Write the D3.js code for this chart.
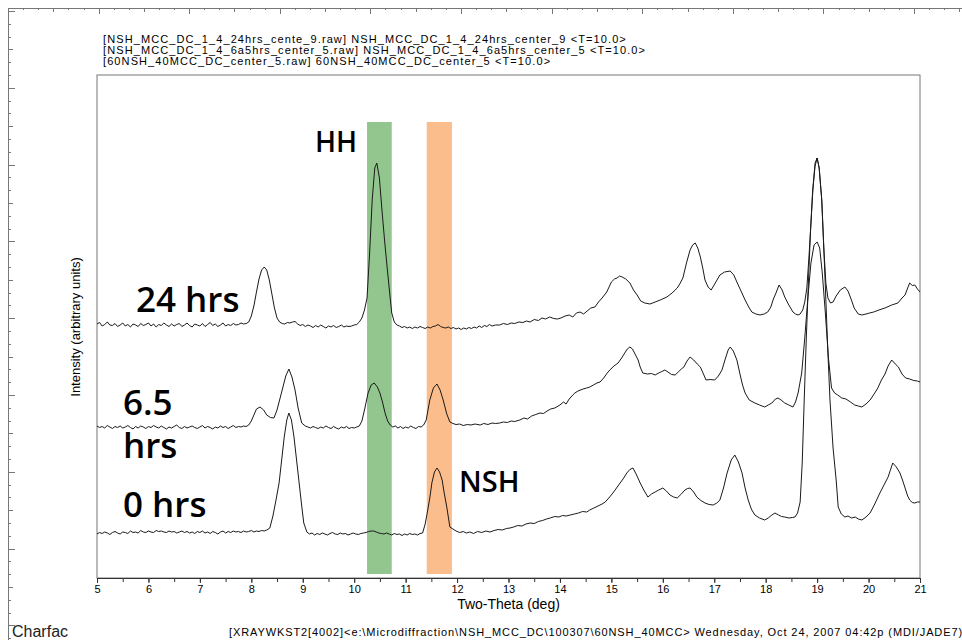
<!DOCTYPE html>
<html>
<head>
<meta charset="utf-8">
<script src="https://cdn.jsdelivr.net/npm/d3@7/dist/d3.min.js"></script>
<style>
    body { margin: 0; background: #fff; }
    #chart { width: 962px; height: 640px; position: relative; }
    svg text { font-family: "Liberation Sans", Arial, sans-serif; fill: #000; }
    .axis--x text { font-size: 11px; }
    .axis--x path, .axis--x line { stroke: #333; }
    .legend-line { font-size: 11px; letter-spacing: 1.1px; }
    .footer { font-size: 11px; letter-spacing: 0.9px; }
    .charfac { font-size: 16px; fill: #222; }
    .axis-title { font-size: 14px; }
    .y-title { font-size: 13px; }
    .ann { font-family: "Open Sans", "Noto Sans", sans-serif !important; font-weight: 600; }
    .trace { fill: none; stroke: #1a1a1a; stroke-width: 1; stroke-linejoin: round; }
    .ruler line, .ruler path { stroke: #777; }
</style>
</head>
<body>
<div id="chart"></div>
<script>
// ---- data (two-theta in deg, intensity in arbitrary counts) ----
const xTicks = [5, 6, 7, 8, 9, 10, 11, 12, 13, 14, 15, 16, 17, 18, 19, 20, 21];

const legendLines = [
    '[NSH_MCC_DC_1_4_24hrs_cente_9.raw] NSH_MCC_DC_1_4_24hrs_center_9 <T=10.0>',
    '[NSH_MCC_DC_1_4_6a5hrs_center_5.raw] NSH_MCC_DC_1_4_6a5hrs_center_5 <T=10.0>',
    '[60NSH_40MCC_DC_center_5.raw] 60NSH_40MCC_DC_center_5 <T=10.0>'
];

const seriesNames = ['24 hrs', '6.5 hrs', '0 hrs'];

// highlighted two-theta windows: HH and NSH
const bandNames = ['HH', 'NSH'];
const bandRanges = [[10.25, 10.73], [11.41, 11.90]];
const bandIntensity = [40, 4560];

const trace24 = [
[5.00,2540],[5.05,2555],[5.10,2520],[5.15,2535],[5.20,2560],[5.25,2530],[5.30,2525],[5.35,2545],[5.40,2515],[5.45,2530],[5.50,2550],[5.55,2520],[5.60,2535],[5.65,2510],[5.70,2540],[5.75,2530],[5.80,2515],[5.85,2545],[5.90,2525],[5.95,2535],
[6.00,2550],[6.05,2520],[6.10,2540],[6.15,2510],[6.20,2535],[6.25,2525],[6.30,2550],[6.35,2530],[6.40,2515],[6.45,2540],[6.50,2520],[6.55,2535],[6.60,2545],[6.65,2515],[6.70,2530],[6.75,2550],[6.80,2525],[6.85,2510],[6.90,2540],[6.95,2530],
[7.00,2520],[7.05,2545],[7.10,2515],[7.15,2535],[7.20,2555],[7.25,2525],[7.30,2540],[7.35,2515],[7.40,2530],[7.45,2550],[7.50,2520],[7.55,2535],[7.60,2525],[7.65,2545],[7.70,2530],[7.75,2535],[7.80,2550],[7.85,2540],[7.90,2545],[7.95,2560],
[8.00,2620],[8.05,2720],[8.10,2860],[8.15,2990],[8.20,3080],[8.25,3110],[8.30,3080],[8.35,2980],[8.40,2840],[8.45,2700],[8.50,2600],[8.55,2560],[8.60,2545],[8.65,2540],[8.70,2555],[8.75,2550],[8.80,2560],[8.85,2565],[8.90,2540],[8.95,2525],
[9.00,2535],[9.05,2515],[9.10,2530],[9.15,2520],[9.20,2505],[9.25,2525],[9.30,2510],[9.35,2530],[9.40,2515],[9.45,2500],[9.50,2520],[9.55,2510],[9.60,2525],[9.65,2505],[9.70,2515],[9.75,2530],[9.80,2510],[9.85,2520],[9.90,2515],[9.95,2520],
[10.00,2530],[10.05,2535],[10.10,2560],[10.15,2600],[10.20,2680],[10.25,2800],[10.30,3250],[10.35,3780],[10.40,4100],[10.44,4150],[10.49,4000],[10.54,3680],[10.59,3380],[10.64,3110],[10.69,2850],[10.73,2650],[10.78,2560],[10.83,2530],
[10.88,2520],[10.93,2505],[10.98,2515],[11.03,2500],[11.08,2510],[11.13,2495],[11.18,2510],[11.23,2500],[11.28,2515],[11.33,2505],[11.38,2495],[11.43,2510],[11.48,2500],[11.53,2515],[11.58,2520],[11.63,2535],[11.68,2515],[11.73,2505],[11.78,2500],[11.83,2510],[11.88,2495],[11.93,2505],[11.98,2490],
[12.03,2500],[12.08,2485],[12.13,2500],[12.18,2490],[12.23,2505],[12.28,2495],[12.33,2510],[12.38,2500],[12.43,2520],[12.48,2505],[12.53,2525],[12.58,2515],[12.63,2535],[12.68,2520],[12.75,2530],[12.83,2530],[12.90,2545],[12.98,2535],
[13.05,2550],[13.12,2545],[13.20,2560],[13.28,2555],[13.35,2570],[13.42,2560],[13.50,2585],[13.58,2575],[13.65,2600],[13.72,2590],[13.80,2610],[13.88,2595],[13.95,2590],
[14.02,2600],[14.10,2620],[14.18,2630],[14.25,2610],[14.32,2650],[14.39,2660],[14.46,2640],[14.53,2670],[14.60,2700],[14.68,2710],[14.75,2760],[14.82,2800],[14.91,2860],
[15.00,2960],[15.06,2990],[15.11,3000],[15.16,3020],[15.21,3010],[15.28,2990],[15.36,2950],[15.43,2880],[15.50,2830],[15.57,2770],[15.65,2750],[15.75,2740],[15.85,2760],[15.95,2780],
[16.08,2810],[16.18,2850],[16.28,2900],[16.34,2950],[16.39,3000],[16.46,3150],[16.53,3280],[16.58,3330],[16.63,3350],[16.68,3300],[16.73,3210],[16.78,3090],[16.82,2980],[16.88,2910],[16.94,2880],
[17.02,2950],[17.11,3030],[17.20,3060],[17.31,3070],[17.38,3030],[17.44,2960],[17.52,2870],[17.60,2780],[17.67,2710],[17.73,2660],[17.81,2640],[17.89,2630],[17.97,2640],
[18.04,2660],[18.10,2710],[18.15,2790],[18.20,2850],[18.26,2930],[18.32,2880],[18.37,2810],[18.45,2730],[18.53,2660],[18.58,2640],[18.63,2630],[18.67,2640],[18.72,2680],[18.76,2760],[18.80,2900],[18.84,3200],[18.88,3550],[18.92,3900],[18.96,4120],
[19.00,4200],[19.04,4100],[19.09,3780],[19.13,3300],[19.17,2950],[19.21,2800],[19.26,2750],[19.31,2760],[19.37,2820],[19.45,2880],[19.54,2910],[19.60,2870],[19.66,2790],[19.72,2700],[19.80,2640],[19.87,2630],[19.95,2640],
[20.02,2650],[20.10,2660],[20.20,2680],[20.32,2700],[20.45,2730],[20.57,2750],[20.65,2800],[20.71,2830],[20.76,2900],[20.80,2950],[20.85,2925],[20.90,2930],[20.95,2890],[21.00,2860]
];

const trace65 = [
[5.00,1520],[5.05,1505],[5.10,1515],[5.15,1500],[5.20,1525],[5.25,1510],[5.30,1495],[5.35,1515],[5.40,1505],[5.45,1520],[5.50,1500],[5.55,1510],[5.60,1525],[5.65,1505],[5.70,1490],[5.75,1515],[5.80,1500],[5.85,1520],[5.90,1510],[5.95,1495],
[6.00,1515],[6.05,1505],[6.10,1525],[6.15,1510],[6.20,1500],[6.25,1520],[6.30,1505],[6.35,1490],[6.40,1510],[6.45,1500],[6.50,1515],[6.55,1530],[6.60,1505],[6.65,1495],[6.70,1515],[6.75,1500],[6.80,1510],[6.85,1520],[6.90,1505],[6.95,1495],
[7.00,1510],[7.05,1525],[7.10,1500],[7.15,1515],[7.20,1505],[7.25,1490],[7.30,1510],[7.35,1500],[7.40,1520],[7.45,1505],[7.50,1515],[7.55,1495],[7.60,1510],[7.65,1525],[7.70,1505],[7.75,1515],[7.80,1510],[7.85,1520],[7.90,1515],[7.95,1530],
[8.00,1570],[8.05,1630],[8.10,1690],[8.17,1710],[8.24,1680],[8.30,1630],[8.37,1605],[8.44,1600],[8.50,1680],[8.55,1780],[8.60,1880],[8.67,2020],[8.73,2090],[8.79,2010],[8.85,1880],[8.91,1700],[8.98,1550],
[9.05,1520],[9.10,1510],[9.15,1500],[9.20,1515],[9.25,1505],[9.30,1495],[9.35,1510],[9.40,1500],[9.45,1520],[9.50,1505],[9.55,1495],[9.60,1515],[9.65,1500],[9.70,1490],[9.75,1510],[9.80,1500],[9.85,1515],[9.90,1495],[9.95,1505],
[10.00,1500],[10.05,1510],[10.10,1520],[10.15,1570],[10.20,1680],[10.27,1850],[10.33,1930],[10.39,1950],[10.45,1910],[10.50,1850],[10.55,1760],[10.60,1650],[10.65,1570],[10.70,1530],[10.75,1510],[10.80,1520],[10.85,1500],[10.90,1515],[10.95,1495],
[11.00,1510],[11.05,1500],[11.10,1520],[11.15,1505],[11.20,1495],[11.25,1515],[11.30,1510],[11.35,1530],[11.40,1580],[11.47,1780],[11.54,1900],[11.61,1940],[11.67,1880],[11.73,1780],[11.80,1640],[11.86,1560],[11.92,1545],[11.98,1535],
[12.05,1540],[12.12,1525],[12.20,1535],[12.27,1530],[12.35,1540],[12.45,1530],[12.52,1545],[12.60,1535],[12.68,1550],[12.75,1545],[12.83,1550],[12.90,1560],[12.98,1555],
[13.05,1570],[13.12,1565],[13.22,1580],[13.30,1600],[13.37,1590],[13.45,1620],[13.53,1635],[13.61,1650],[13.68,1645],[13.75,1670],[13.82,1690],[13.90,1700],
[14.00,1730],[14.07,1760],[14.12,1740],[14.18,1790],[14.25,1830],[14.29,1850],[14.35,1870],[14.45,1890],[14.52,1900],[14.58,1910],[14.65,1930],[14.72,1950],[14.78,1960],[14.85,2000],[14.92,2050],[14.97,2080],
[15.05,2120],[15.13,2150],[15.20,2200],[15.26,2250],[15.31,2290],[15.36,2310],[15.41,2290],[15.46,2240],[15.52,2180],[15.56,2110],[15.61,2050],[15.70,2040],[15.78,2045],[15.85,2030],[15.92,2050],[15.98,2065],
[16.04,2080],[16.10,2060],[16.17,2035],[16.24,2030],[16.30,2060],[16.36,2090],[16.41,2110],[16.47,2170],[16.53,2210],[16.60,2180],[16.67,2140],[16.73,2110],[16.79,2040],[16.84,1980],[16.92,1985],
[17.01,1980],[17.08,2020],[17.15,2080],[17.22,2200],[17.27,2280],[17.31,2310],[17.37,2270],[17.44,2180],[17.50,2040],[17.55,1930],[17.60,1850],[17.68,1780],[17.79,1750],[17.88,1730],[17.98,1710],
[18.05,1730],[18.12,1750],[18.19,1790],[18.24,1800],[18.30,1780],[18.37,1750],[18.45,1730],[18.53,1710],[18.58,1760],[18.63,1850],[18.70,2050],[18.76,2400],[18.82,2800],[18.88,3150],[18.94,3330],
[19.00,3360],[19.05,3300],[19.10,3050],[19.16,2650],[19.22,2200],[19.28,1900],[19.34,1850],[19.40,1830],[19.48,1800],[19.56,1790],[19.65,1760],[19.73,1730],[19.80,1720],[19.87,1710],[19.95,1740],
[20.03,1780],[20.12,1850],[20.18,1900],[20.25,1980],[20.32,2040],[20.38,2120],[20.45,2180],[20.52,2140],[20.58,2110],[20.65,2040],[20.72,2000],[20.80,1990],[20.88,1975],[20.95,1970],[21.00,1960]
];

const trace0 = [
[5.00,440],[5.05,455],[5.10,445],[5.15,460],[5.20,450],[5.25,435],[5.30,455],[5.35,465],[5.40,450],[5.45,440],[5.50,460],[5.55,455],[5.60,445],[5.65,470],[5.70,455],[5.75,460],[5.80,450],[5.85,475],[5.90,460],[5.95,455],
[6.00,470],[6.05,460],[6.10,455],[6.15,475],[6.20,465],[6.25,470],[6.30,460],[6.35,455],[6.40,470],[6.45,460],[6.50,465],[6.55,450],[6.60,460],[6.65,470],[6.70,455],[6.75,465],[6.80,450],[6.85,460],[6.90,445],[6.95,465],
[7.00,455],[7.05,470],[7.10,450],[7.15,460],[7.20,445],[7.25,465],[7.30,455],[7.35,440],[7.40,460],[7.45,470],[7.50,450],[7.55,465],[7.60,455],[7.65,470],[7.70,460],[7.75,465],[7.80,455],[7.85,470],[7.90,460],[7.95,465],
[8.00,475],[8.05,460],[8.10,470],[8.15,465],[8.20,475],[8.25,470],[8.30,480],[8.36,500],[8.42,620],[8.48,780],[8.54,950],[8.59,1180],[8.64,1410],[8.69,1580],[8.73,1650],[8.78,1580],[8.83,1410],[8.88,1180],[8.93,950],[8.98,720],
[9.02,550],[9.08,460],[9.13,440],[9.18,450],[9.23,430],[9.28,445],[9.33,435],[9.38,450],[9.43,440],[9.48,430],[9.53,445],[9.58,455],[9.63,440],[9.68,435],[9.73,450],[9.78,440],[9.83,445],[9.88,430],[9.93,440],[9.98,450],
[10.03,440],[10.08,435],[10.13,445],[10.18,450],[10.23,455],[10.28,465],[10.33,470],[10.38,470],[10.43,460],[10.48,450],[10.53,445],[10.58,440],[10.63,450],[10.68,440],[10.73,430],[10.78,445],[10.83,435],[10.88,440],[10.93,425],[10.98,440],
[11.03,430],[11.08,445],[11.13,435],[11.18,440],[11.23,430],[11.28,445],[11.33,450],[11.38,540],[11.42,650],[11.47,800],[11.51,950],[11.56,1060],[11.61,1100],[11.66,1060],[11.71,980],[11.75,850],[11.80,710],[11.86,510],[11.92,490],[11.98,470],
[12.05,455],[12.12,465],[12.18,450],[12.25,460],[12.32,445],[12.40,465],[12.48,455],[12.56,470],[12.64,460],[12.72,475],[12.80,485],[12.88,480],[12.96,495],
[13.03,500],[13.10,510],[13.18,525],[13.26,520],[13.34,540],[13.42,550],[13.50,545],[13.58,565],[13.66,575],[13.74,590],[13.81,600],[13.90,615],[13.98,610],
[14.05,625],[14.12,620],[14.20,630],[14.28,640],[14.36,650],[14.44,665],[14.52,660],[14.58,680],[14.66,700],[14.74,720],[14.82,740],[14.88,760],[14.95,800],
[15.03,850],[15.10,900],[15.17,950],[15.24,1000],[15.30,1050],[15.36,1085],[15.42,1100],[15.49,1030],[15.56,950],[15.63,880],[15.71,810],[15.78,840],[15.85,860],[15.92,880],
[16.00,900],[16.07,870],[16.14,830],[16.21,810],[16.28,800],[16.36,840],[16.43,880],[16.48,895],[16.53,900],[16.60,860],[16.66,810],[16.74,775],[16.82,750],[16.90,735],[16.98,730],
[17.05,750],[17.11,780],[17.18,900],[17.25,1050],[17.33,1180],[17.40,1230],[17.47,1160],[17.54,1050],[17.60,900],[17.66,780],[17.72,690],[17.79,630],[17.88,600],[17.98,580],
[18.05,600],[18.12,630],[18.18,650],[18.25,630],[18.31,615],[18.37,610],[18.45,600],[18.52,605],[18.57,610],[18.62,650],[18.67,760],[18.71,1150],[18.75,1800],[18.79,2400],[18.83,2950],[18.87,3450],[18.91,3850],[18.96,4150],
[19.00,4200],[19.04,4100],[19.09,3780],[19.13,3300],[19.17,2780],[19.21,2250],[19.25,1780],[19.31,1300],[19.37,980],[19.41,710],[19.47,640],[19.54,610],[19.60,620],[19.67,600],[19.74,610],[19.80,590],[19.87,580],[19.95,610],
[20.03,650],[20.12,740],[20.22,850],[20.30,930],[20.38,1010],[20.47,1150],[20.54,1110],[20.61,1050],[20.66,980],[20.71,900],[20.76,820],[20.80,780],[20.85,755],[20.90,750],[20.95,760],[21.00,760]
];

const footerText = '[XRAYWKST2[4002]<e:\\Microdiffraction\\NSH_MCC_DC\\100307\\60NSH_40MCC> Wednesday, Oct 24, 2007 04:42p (MDI/JADE7)';


class StackedScanChart {

    constructor(selection, config = {}) {
        let self = this;
        this.selection = selection;

        this.cfg = {
            'margin': {'top': 75, 'right': 42, 'bottom': 62, 'left': 97},
            'xdomain': [5, 21],
            'ydomain': [0, 5030],
            'bandcolors': ['#93c68f', '#fcbd8c'],
            'seriesLabels': [
                {'text': '24 hrs', 'x': 136, 'y': 312, 'size': 35},
                {'text': '6.5',    'x': 123, 'y': 415, 'size': 35},
                {'text': 'hrs',    'x': 123, 'y': 458, 'size': 35},
                {'text': '0 hrs',  'x': 123, 'y': 517, 'size': 35}
            ],
            'bandLabels': [
                {'x': 315, 'y': 152, 'size': 28},
                {'x': 459, 'y': 492, 'size': 29}
            ]
        };
        Object.keys(config).forEach(function(key) { self.cfg[key] = config[key]; });

        this.cfg.outerW = 962;
        this.cfg.outerH = 640;
        this.cfg.width = this.cfg.outerW - this.cfg.margin.left - this.cfg.margin.right;
        this.cfg.height = this.cfg.outerH - this.cfg.margin.top - this.cfg.margin.bottom;

        this.xScale = d3.scaleLinear().domain(this.cfg.xdomain).range([0, this.cfg.width]);
        this.yScale = d3.scaleLinear().domain(this.cfg.ydomain).range([this.cfg.height, 0]);

        this.line = d3.line()
            .x(function(d){ return self.xScale(d[0]); })
            .y(function(d){ return self.yScale(d[1]); });

        this.initGraph();
    }

    initGraph() {
        let self = this;
        const cfg = this.cfg;

        this.svg = this.selection.append('svg')
            .attr('width', cfg.outerW)
            .attr('height', cfg.outerH);

        // page rulers (top and left)
        this.drawRulers();

        // legend / file names
        this.svg.append('g').attr('class', 'legend')
            .selectAll('text')
            .data(legendLines).enter()
            .append('text')
            .attr('class', 'legend-line')
            .attr('x', 103)
            .attr('y', function(d, i){ return 43 + i * 11; })
            .text(function(d){ return d; });

        this.g = this.svg.append('g')
            .attr('transform', 'translate(' + cfg.margin.left + ',' + cfg.margin.top + ')');

        // highlight bands
        this.g.selectAll('.band')
            .data(bandRanges).enter()
            .append('rect')
            .attr('class', 'band')
            .attr('x', function(d){ return self.xScale(d[0]); })
            .attr('width', function(d){ return self.xScale(d[1]) - self.xScale(d[0]); })
            .attr('y', self.yScale(bandIntensity[1]))
            .attr('height', self.yScale(bandIntensity[0]) - self.yScale(bandIntensity[1]))
            .attr('fill', function(d, i){ return cfg.bandcolors[i]; });

        // frame
        this.g.append('rect')
            .attr('width', cfg.width)
            .attr('height', cfg.height)
            .attr('fill', 'none')
            .attr('stroke', '#777')
            .attr('stroke-width', 1);

        // traces
        this.g.selectAll('.trace')
            .data([trace24, trace65, trace0]).enter()
            .append('path')
            .attr('class', 'trace')
            .attr('d', function(d){ return self.line(d); });

        // x axis with half-degree minor ticks
        const minor = d3.range(cfg.xdomain[0] * 2, cfg.xdomain[1] * 2 + 1).map(function(v){ return v / 2; });
        this.g.append('g')
            .attr('class', 'axis axis--x')
            .attr('transform', 'translate(0,' + cfg.height + ')')
            .call(d3.axisBottom(self.xScale).tickValues(minor).tickSize(4).tickFormat(''));
        this.g.append('g')
            .attr('class', 'axis axis--x')
            .attr('transform', 'translate(0,' + cfg.height + ')')
            .call(d3.axisBottom(self.xScale).tickValues(xTicks).tickSize(5).tickPadding(2).tickFormat(d3.format('d')));

        this.g.append('text')
            .attr('class', 'axis-title')
            .attr('text-anchor', 'middle')
            .attr('x', cfg.width / 2)
            .attr('y', cfg.height + 31)
            .text('Two-Theta (deg)');

        this.svg.append('text')
            .attr('class', 'y-title')
            .attr('text-anchor', 'middle')
            .attr('transform', 'translate(80,327) rotate(-90)')
            .text('Intensity (arbitrary units)');

        // annotations
        this.svg.selectAll('.series-label')
            .data(cfg.seriesLabels).enter()
            .append('text')
            .attr('class', 'ann series-label')
            .attr('x', function(d){ return d.x; })
            .attr('y', function(d){ return d.y; })
            .style('font-size', function(d){ return d.size + 'px'; })
            .text(function(d){ return d.text; });

        this.svg.selectAll('.band-label')
            .data(cfg.bandLabels).enter()
            .append('text')
            .attr('class', 'ann band-label')
            .attr('x', function(d){ return d.x; })
            .attr('y', function(d){ return d.y; })
            .style('font-size', function(d){ return d.size + 'px'; })
            .text(function(d, i){ return bandNames[i]; });

        // footer
        this.svg.append('text')
            .attr('class', 'charfac')
            .attr('x', 12)
            .attr('y', 637)
            .text('Charfac');

        this.svg.append('text')
            .attr('class', 'footer')
            .attr('x', 229)
            .attr('y', 636)
            .text(footerText);
    }

    drawRulers() {
        const r = this.svg.append('g').attr('class', 'ruler');
        const xr = d3.scaleLinear().domain([0, 63]).range([8, 8 + 63 * 15.1]);
        const yr = d3.scaleLinear().domain([0, 49]).range([11, 11 + 49 * 12.8]);

        r.append('line').attr('x1', 8).attr('x2', 962).attr('y1', 8.5).attr('y2', 8.5);
        r.append('line').attr('x1', 8.5).attr('x2', 8.5).attr('y1', 8).attr('y2', 640);

        r.selectAll('.tx')
            .data(d3.range(0, 64)).enter()
            .append('line')
            .attr('x1', function(d){ return Math.round(xr(d)) + 0.5; })
            .attr('x2', function(d){ return Math.round(xr(d)) + 0.5; })
            .attr('y1', 8)
            .attr('y2', function(d){ return 8 + (d % 6 === 0 ? 6 : (d % 3 === 0 ? 4 : 2)); });

        r.selectAll('.ty')
            .data(d3.range(0, 50)).enter()
            .append('line')
            .attr('y1', function(d){ return Math.round(yr(d)) + 0.5; })
            .attr('y2', function(d){ return Math.round(yr(d)) + 0.5; })
            .attr('x1', 8)
            .attr('x2', function(d){ return 8 + (d % 6 === 0 ? 7 : (d % 3 === 0 ? 5 : 3)); });
    }
}

new StackedScanChart(d3.select('#chart'));
</script>
</body>
</html>
